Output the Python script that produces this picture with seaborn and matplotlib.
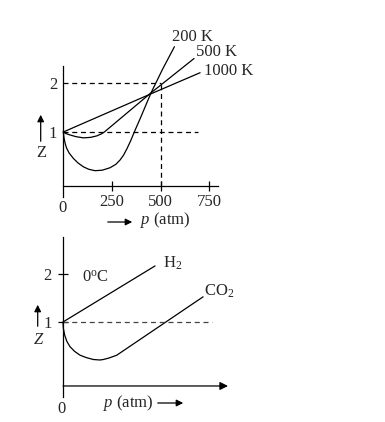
"""
plot.py
Fator de compressibilidade Z vs p (N2 em 3 temperaturas; H2 e CO2 a 0 oC).
"""

import matplotlib
matplotlib.use("Agg")
import matplotlib.pyplot as plt
import seaborn as sns
import pandas as pd

# --- painel de cima: N2 ---
p_200 = [0, 4, 10, 17, 30, 52, 75, 103, 130, 163, 200, 240, 270, 292, 310, 326, 345, 365, 400, 451, 510, 571]
z_200 = [1.0, 0.87, 0.76, 0.67, 0.57, 0.46, 0.37, 0.29, 0.24, 0.21, 0.22, 0.27, 0.34, 0.43, 0.53, 0.65, 0.81, 1.0, 1.32, 1.80, 2.28, 2.74]
p_500 = [0, 12, 34, 65, 103, 140, 172, 195, 211, 451, 672]
z_500 = [1.0, 0.97, 0.94, 0.905, 0.88, 0.89, 0.92, 0.96, 1.0, 1.80, 2.50]
p_1000 = [0, 451, 703]
z_1000 = [1.0, 1.78, 2.21]
top_labels = ["200 K", "500 K", "1000 K"]
top_xticks = [250, 500, 750]

# --- painel de baixo: H2 e CO2 ---
p_h2 = [0, 473]
z_h2 = [1.0, 2.18]
p_co2 = [0, 2, 9, 20, 36, 60, 88, 120, 156, 190, 207, 235, 276, 720]
z_co2 = [1.0, 0.86, 0.72, 0.59, 0.48, 0.38, 0.30, 0.25, 0.21, 0.20, 0.21, 0.24, 0.30, 1.53]

W, H = 385, 422
LW = 0.9
DASH = (0, (4, 3))

sns.set_theme(style="white")
plt.rcParams["font.family"] = ["Liberation Serif", "DejaVu Serif"]
plt.rcParams["mathtext.fontset"] = "custom"
plt.rcParams["mathtext.rm"] = "Liberation Serif"
plt.rcParams["mathtext.it"] = "Liberation Serif:italic"
plt.rcParams["font.size"] = 12


def fx(x):
    return x / W


def fy(y):
    return 1 - y / H


def curves_df(series):
    rows = []
    for name, ps, zs in series:
        for p, z in zip(ps, zs):
            rows.append({"curve": name, "p": p, "Z": z})
    return pd.DataFrame(rows)


def style_axes(ax, xaxis_z):
    for s in ["top", "right"]:
        ax.spines[s].set_visible(False)
    ax.spines["left"].set_position(("data", 0))
    ax.spines["bottom"].set_position(("data", xaxis_z))
    for s in ["left", "bottom"]:
        ax.spines[s].set_color("black")
        ax.spines[s].set_linewidth(LW)
    ax.set_xlabel("")
    ax.set_ylabel("")
    ax.patch.set_alpha(0)
    for line in ax.lines:
        line.set_clip_on(False)


def fig_arrow(x0, y0, x1, y1):
    fig.add_artist(matplotlib.patches.FancyArrowPatch(
        (fx(x0), fy(y0)), (fx(x1), fy(y1)), transform=fig.transFigure,
        arrowstyle="-|>", mutation_scale=10, color="black", lw=LW))


fig = plt.figure(figsize=(W / 100, H / 100), dpi=100)

# ---------------- painel de cima ----------------
ax1 = fig.add_axes([fx(63.3), fy(197), (218 - 63.3) / W, (197 - 66) / H])
df_top = curves_df([("200", p_200, z_200), ("500", p_500, z_500), ("1000", p_1000, z_1000)])
sns.lineplot(data=df_top, x="p", y="Z", units="curve", estimator=None, sort=False,
             color="black", linewidth=LW, ax=ax1)
ax1.plot([0, 693], [1, 1], color="black", lw=LW, ls=DASH)
ax1.plot([0, 500], [2, 2], color="black", lw=LW, ls=DASH)
ax1.plot([500, 500], [-0.10, 2], color="black", lw=LW, ls=DASH)
ax1.set_xlim(0, 795)
ax1.set_ylim(-0.327, 2.347)
style_axes(ax1, -0.10)
ax1.set_xticks(top_xticks)
ax1.set_xticklabels([str(t) for t in top_xticks])
ax1.tick_params(axis="x", direction="inout", length=7, width=LW, color="black",
                pad=2, labelsize=12, bottom=True)
ax1.set_yticks([1, 2])
ax1.set_yticklabels(["1", "2"])
ax1.tick_params(axis="y", length=0, pad=4.5, labelsize=12)

fig.text(fx(62.5), fy(208), "0", ha="center", va="center", fontsize=12)
fig.text(fx(171.7), fy(36.7), top_labels[0], ha="left", va="center", fontsize=12)
fig.text(fx(196), fy(52.3), top_labels[1], ha="left", va="center", fontsize=12)
fig.text(fx(204), fy(71), top_labels[2], ha="left", va="center", fontsize=12)

fig.text(fx(140), fy(220), "$p$ (atm)", ha="left", va="center", fontsize=12)
fig_arrow(105, 222, 135, 222)
fig_arrow(40.7, 144, 40.7, 112)
fig.text(fx(41), fy(153), "Z", ha="center", va="center", fontsize=12)

# ---------------- painel de baixo ----------------
ax2 = fig.add_axes([fx(63), fy(397), (228 - 63) / W, (397 - 237) / H])
df_bot = curves_df([("H2", p_h2, z_h2), ("CO2", p_co2, z_co2)])
sns.lineplot(data=df_bot, x="p", y="Z", units="curve", estimator=None, sort=False,
             color="black", linewidth=LW, ax=ax2)
ax2.plot([0, 766], [1, 1], color="#444444", lw=LW, ls=DASH)
ax2.set_xlim(0, 848)
ax2.set_ylim(-0.579, 2.789)
style_axes(ax2, -0.347)
ax2.spines["bottom"].set_visible(False)
ax2.annotate("", xy=(848, -0.347), xytext=(0, -0.347), annotation_clip=False,
             arrowprops=dict(arrowstyle="-|>", mutation_scale=12, color="black", lw=LW,
                             shrinkA=0, shrinkB=0))
ax2.set_xticks([])
ax2.set_yticks([1, 2])
ax2.set_yticklabels(["1", "2"])
ax2.tick_params(axis="y", direction="inout", length=7, width=LW, color="black",
                pad=4.5, labelsize=12, left=True)

fig.text(fx(62), fy(409), "0", ha="center", va="center", fontsize=12)
fig.text(fx(82), fy(278), r"0$^{\rm o}$C", ha="left", va="center", fontsize=12)
fig.text(fx(163), fy(263), r"H$_2$", ha="left", va="center", fontsize=12)
fig.text(fx(204), fy(291), r"CO$_2$", ha="left", va="center", fontsize=12)

fig.text(fx(103), fy(403), "$p$ (atm)", ha="left", va="center", fontsize=12)
fig_arrow(155, 403, 186, 403)
fig_arrow(37.7, 329, 37.7, 302)
fig.text(fx(38), fy(340), "Z", ha="center", va="center", fontsize=12, style="italic")

fig.savefig("out.png", dpi=100)
plt.close(fig)
